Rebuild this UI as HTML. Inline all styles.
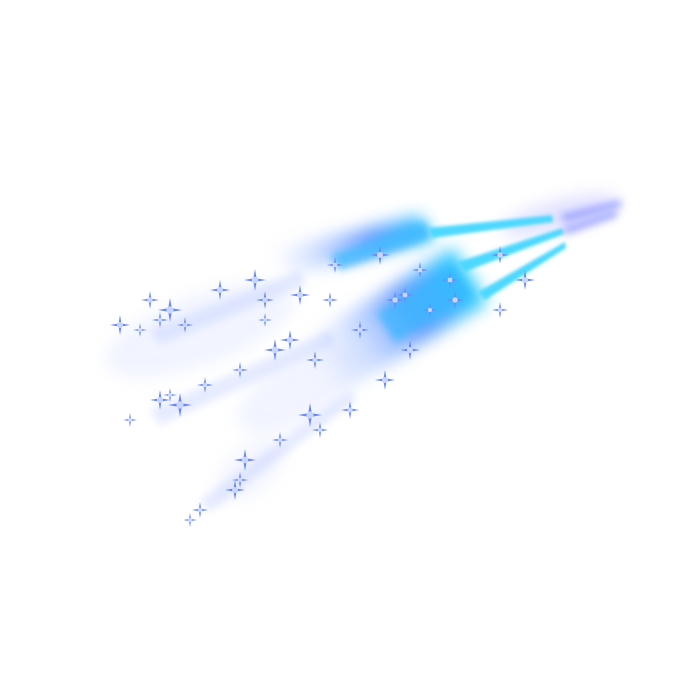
<!DOCTYPE html>
<html><head><meta charset="utf-8"><style>
html,body{margin:0;padding:0;background:#fff;width:700px;height:700px;overflow:hidden}
</style></head><body>
<svg width="700" height="700" viewBox="0 0 700 700">
<defs>
<filter id="b8" x="-50%" y="-50%" width="200%" height="200%"><feGaussianBlur stdDeviation="8"/></filter>
<filter id="b4" x="-50%" y="-50%" width="200%" height="200%"><feGaussianBlur stdDeviation="4"/></filter>
<filter id="b2" x="-50%" y="-50%" width="200%" height="200%"><feGaussianBlur stdDeviation="1.5"/></filter>
<linearGradient id="gs1" x1="0" y1="0" x2="1" y2="0">
<stop offset="0" stop-color="#aabfff" stop-opacity="0"/><stop offset="0.6" stop-color="#4a8cff" stop-opacity="0.8"/><stop offset="1" stop-color="#2ad0ff"/></linearGradient>
</defs>
<g filter="url(#b8)" opacity="0.25">
<ellipse cx="200" cy="330" rx="100" ry="35" fill="#c8d4ff" transform="rotate(-20 200 330)"/>
<ellipse cx="300" cy="390" rx="70" ry="30" fill="#c8d4ff" transform="rotate(-30 300 390)"/>
<ellipse cx="250" cy="470" rx="40" ry="22" fill="#d0d8ff" transform="rotate(-40 250 470)"/>
<ellipse cx="560" cy="215" rx="60" ry="15" fill="#8a8cff" transform="rotate(-15 560 215)"/>
</g>
<g filter="url(#b4)" opacity="0.35">
<polygon points="150,330 300,270 305,285 160,345" fill="#b8c6ff"/>
<polygon points="150,410 330,330 335,345 160,425" fill="#b8c6ff"/>
<polygon points="200,500 350,390 356,400 210,512" fill="#b8c6ff"/>
</g>
<g>
<polygon points="270,250 420,215 435,240 290,275" fill="url(#gs1)" filter="url(#b8)"/>
<polygon points="330,255 425,222 432,238 340,270" fill="#3fb8ff" filter="url(#b4)" opacity="0.8"/>
</g>
<g transform="rotate(-32 410 310)">
<rect x="300" y="280" width="180" height="65" fill="url(#gs1)" filter="url(#b8)"/>
<rect x="380" y="295" width="90" height="35" fill="#35b6ff" filter="url(#b4)" opacity="0.7"/>
</g>
<g>
<polygon points="428,228 552,215 553,222 432,238" fill="#4dd8ff" filter="url(#b2)"/>
<polygon points="458,262 562,228 564,234 464,272" fill="#4dd8ff" filter="url(#b2)"/>
<polygon points="478,292 565,242 566,248 485,300" fill="#4dd8ff" filter="url(#b2)"/>
<polygon points="560,215 620,200 622,206 565,222" fill="#9aa0ff" filter="url(#b4)"/>
<polygon points="562,228 615,210 618,216 566,234" fill="#9aa0ff" filter="url(#b4)"/>
</g>
<g id="sparkles"></g>
</svg>
<script>
const pts=[[120,325,10],[150,300,9],[170,310,12],[185,325,8],[160,320,8],[220,290,10],[255,280,11],[265,300,9],[300,295,10],[275,350,11],[290,340,10],[315,360,9],[240,370,8],[160,400,10],[180,405,12],[205,385,8],[170,395,7],[130,420,7],[310,415,12],[320,430,8],[350,410,9],[280,440,8],[245,460,11],[235,490,10],[240,480,8],[200,510,8],[190,520,7],[385,380,10],[360,330,9],[410,350,10],[395,300,9],[420,270,8],[380,255,10],[335,265,8],[500,255,9],[525,280,10],[500,310,8],[455,300,9],[450,280,8],[140,330,7],[330,300,8],[265,320,7],[405,295,8],[430,310,7]];
const g=document.getElementById('sparkles');
pts.forEach(([x,y,s])=>{
 const p=document.createElementNS('http://www.w3.org/2000/svg','polygon');
 const w=s*0.15;
 p.setAttribute('points',`${x},${y-s} ${x+w},${y-w} ${x+s},${y} ${x+w},${y+w} ${x},${y+s} ${x-w},${y+w} ${x-s},${y} ${x-w},${y-w}`);
 p.setAttribute('fill','#6a88f5');
 
 
 g.appendChild(p);
 const c=document.createElementNS('http://www.w3.org/2000/svg','circle');
 c.setAttribute('cx',x);c.setAttribute('cy',y);c.setAttribute('r',s*0.3);
 c.setAttribute('fill','#c8d6ff');
 
 
 g.appendChild(c);
});
</script>
</body></html>
